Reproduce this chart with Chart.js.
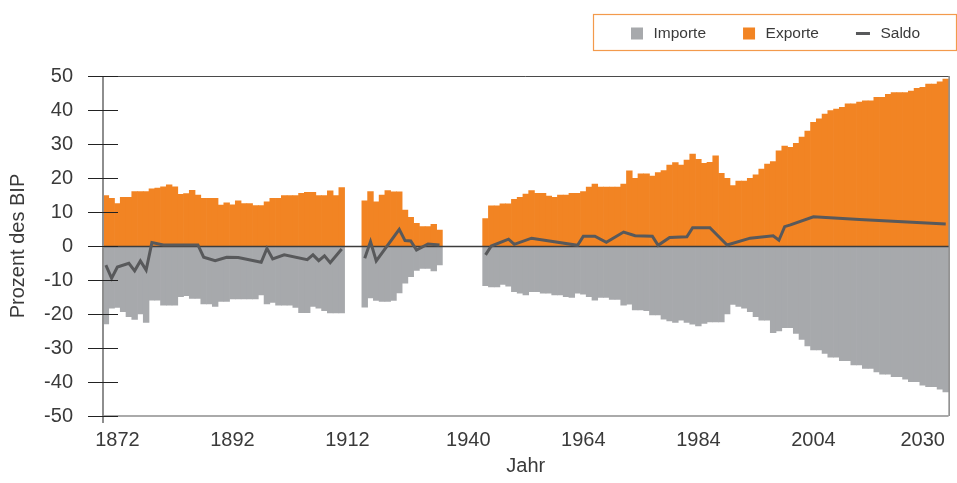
<!DOCTYPE html>
<html lang="de">
<head>
<meta charset="utf-8">
<title>Importe, Exporte und Saldo in Prozent des BIP</title>
<script src="https://cdn.jsdelivr.net/npm/chart.js@4.4.1/dist/chart.umd.min.js"></script>
<style>
  html, body { margin: 0; padding: 0; background: #ffffff; }
  canvas { display: block; }
</style>
</head>
<body>
<canvas id="myChart" width="957" height="483"></canvas>
<script>
// Kategorien (Jahre), so wie sie auf der Achse aufeinander folgen
const jahre = [
  1870, 1871, 1872, 1873, 1874, 1875, 1876, 1877, 1878, 1879,
  1880, 1881, 1882, 1883, 1884, 1885, 1886, 1887, 1888, 1889,
  1890, 1891, 1892, 1893, 1894, 1895, 1896, 1897, 1898, 1899,
  1900, 1901, 1902, 1903, 1904, 1905, 1906, 1907, 1908, 1909,
  1910, 1911, 1912, 1915, 1918, 1921, 1922, 1923, 1924, 1925,
  1926, 1927, 1928, 1929, 1930, 1931, 1932, 1933, 1934, 1935,
  1936, 1937, 1938, 1940, 1942, 1944, 1947, 1948, 1949, 1950,
  1951, 1952, 1953, 1954, 1955, 1956, 1957, 1958, 1959, 1960,
  1961, 1962, 1963, 1964, 1965, 1966, 1967, 1968, 1969, 1970,
  1971, 1972, 1973, 1974, 1975, 1976, 1977, 1978, 1979, 1980,
  1981, 1982, 1983, 1984, 1985, 1986, 1987, 1988, 1989, 1990,
  1991, 1992, 1993, 1994, 1995, 1996, 1997, 1998, 1999, 2000,
  2001, 2002, 2003, 2004, 2005, 2006, 2007, 2008, 2009, 2010,
  2011, 2012, 2013, 2014, 2015, 2016, 2018, 2020, 2022, 2024,
  2026, 2028, 2030, 2032, 2034, 2036, 2038
];

// beschriftete Jahre auf der x-Achse
const tickJahre = [1872, 1892, 1912, 1940, 1964, 1984, 2004, 2030];

const importe = [
  -22.9, -18.3, -18.1, -19.3, -20.8, -21.6, -20.0, -22.5, -15.9, -15.9,
  -17.4, -17.4, -17.4, -14.9, -14.6, -15.4, -15.4, -17.0, -17.0, -17.8,
  -16.3, -16.3, -15.6, -15.6, -15.6, -15.6, -15.6, -14.4, -17.0, -16.6,
  -17.4, -17.4, -17.4, -18.1, -19.6, -19.6, -17.8, -18.3, -19.0, -19.7,
  -19.7, -19.7, null, null, null, -18.0, -15.3, -16.0, -16.3, -16.3,
  -16.0, -13.8, -10.9, -9.0, -7.2, -6.6, -6.6, -7.3, -5.6, null,
  null, null, null, null, null, null, -11.7, -12.0, -12.0, -11.3,
  -11.8, -13.4, -13.9, -14.4, -13.4, -13.4, -13.9, -13.9, -14.4, -14.4,
  -14.9, -15.1, -13.9, -14.2, -14.9, -15.9, -15.1, -15.1, -15.7, -15.7,
  -17.4, -17.1, -18.8, -18.8, -19.0, -20.3, -20.3, -21.5, -22.0, -22.5,
  -21.8, -22.5, -23.0, -23.5, -22.8, -22.3, -22.3, -22.3, -20.0, -17.2,
  -17.8, -18.3, -19.3, -20.8, -21.8, -21.8, -25.5, -25.0, -24.0, -24.0,
  -25.7, -27.5, -29.4, -30.6, -30.6, -31.6, -32.7, -32.7, -33.7, -33.7,
  -35.0, -35.0, -36.0, -36.0, -37.0, -37.7, -37.7, -38.4, -38.4, -39.2,
  -39.9, -39.9, -40.9, -41.4, -41.4, -42.1, -42.9
];

const exporte = [
  14.8, 14.0, 12.5, 14.3, 14.3, 16.0, 16.0, 16.0, 16.8, 17.0,
  17.4, 18.0, 17.4, 15.2, 15.4, 16.4, 15.0, 14.0, 14.0, 14.0,
  12.0, 12.7, 12.1, 13.3, 12.5, 12.5, 11.9, 11.9, 13.0, 14.0,
  14.0, 14.8, 14.8, 14.8, 15.5, 15.8, 15.8, 14.8, 14.8, 16.2,
  14.8, 17.2, null, null, null, 13.3, 16.0, 13.0, 15.0, 16.3,
  15.9, 15.9, 10.6, 8.4, 6.7, 5.7, 5.7, 6.4, 4.7, null,
  null, null, null, null, null, null, 8.1, 11.8, 11.8, 12.4,
  12.4, 13.7, 14.3, 15.3, 16.3, 15.5, 15.5, 14.7, 14.3, 15.0,
  15.0, 15.5, 15.5, 16.0, 17.3, 18.2, 17.3, 17.3, 17.3, 17.3,
  18.2, 22.1, 19.9, 21.2, 21.2, 20.6, 21.6, 22.2, 23.8, 24.5,
  23.8, 25.3, 27.0, 25.5, 24.3, 24.6, 26.5, 21.4, 19.9, 17.8,
  19.1, 19.1, 19.9, 20.9, 22.6, 24.1, 24.8, 28.0, 29.4, 29.0,
  30.2, 32.0, 33.8, 36.4, 37.4, 38.8, 39.8, 40.3, 40.8, 41.8,
  41.8, 42.3, 42.7, 42.7, 43.7, 43.7, 44.6, 45.1, 45.1, 45.1,
  45.6, 46.4, 46.7, 47.6, 47.6, 48.3, 49.1
];

// Saldo: nur die sichtbaren Knickpunkte, dazwischen gerade Linien
const saldo = [
  -5.6, -9.5, -6.2, null, -5.1, -7.3, -4.4, -7.1, 1.0, null,
  0.3, null, null, null, null, null, 0.3, -3.3, null, -4.3,
  null, -3.3, null, -3.4, null, null, null, -4.8, -0.7, -3.8,
  null, -2.6, null, null, null, -4.0, -2.6, -4.3, -2.9, -4.9,
  null, -0.9, null, null, null, -3.6, 1.3, -4.4, null, null,
  null, 4.9, 1.6, 1.5, -1.2, null, 0.6, null, 0.3, null,
  null, null, null, null, null, null, -2.6, 0.0, null, null,
  2.0, 0.5, null, null, 2.3, null, null, null, null, null,
  null, null, 0.2, 2.9, null, 2.9, null, 1.1, null, null,
  4.1, null, 3.0, null, null, 2.9, 0.2, null, 2.5, null,
  null, 2.7, 5.4, null, null, 5.4, null, null, 0.3, null,
  null, null, 2.3, null, null, null, 3.0, 1.7, 5.7, 6.2,
  null, null, null, 8.6, null, null, null, null, null, null,
  null, 7.8, null, null, null, null, null, null, null, null,
  null, null, null, null, null, null, 6.5
];

const grau = '#a7a9ac';
const orange = '#f28423';
const dunkel = '#58595b';
const textFarbe = '#3a3a3a';
const schrift = '"Liberation Sans", Arial, Helvetica, sans-serif';

// Rahmen, Achsen-Ticks, Nulllinie und Legende
const rahmen = {
    id: 'rahmen',
    beforeDatasetDraw: (chart, args) => {
        if (args.meta.type !== 'line') return;
        const { ctx, chartArea: { left, right }, scales: { y } } = chart;
        const y0 = Math.round(y.getPixelForValue(0)) + 0.5;
        ctx.save();
        ctx.strokeStyle = '#3d3d3d';
        ctx.lineWidth = 1.5;
        ctx.beginPath();
        ctx.moveTo(left, y0);
        ctx.lineTo(right, y0);
        ctx.stroke();
        ctx.restore();
    },
    afterDraw: (chart) => {
        const { ctx, chartArea: { top, right, bottom, left }, scales: { y } } = chart;
        ctx.save();

        // oben und rechts
        ctx.strokeStyle = '#4a4a4a';
        ctx.lineWidth = 1;
        ctx.beginPath();
        ctx.moveTo(left, top + 0.5);
        ctx.lineTo(right, top + 0.5);
        ctx.moveTo(right + 0.5, top);
        ctx.lineTo(right + 0.5, bottom);
        ctx.stroke();

        // x-Achse
        ctx.strokeStyle = '#8e8e8e';
        ctx.lineWidth = 1.5;
        ctx.beginPath();
        ctx.moveTo(left, bottom);
        ctx.lineTo(right, bottom);
        ctx.stroke();

        // y-Achse, etwas unter die x-Achse verlängert
        ctx.lineWidth = 2;
        ctx.beginPath();
        ctx.moveTo(left, top);
        ctx.lineTo(left, bottom + 7);
        ctx.stroke();

        // Ticks beidseits der y-Achse
        ctx.strokeStyle = '#222222';
        ctx.lineWidth = 1.2;
        ctx.beginPath();
        y.ticks.forEach(t => {
            const py = Math.round(y.getPixelForValue(t.value)) + 0.5;
            ctx.moveTo(left - 15, py);
            ctx.lineTo(left + 15, py);
        });
        ctx.stroke();

        // Legende
        ctx.strokeStyle = '#f39a4c';
        ctx.lineWidth = 1.2;
        ctx.strokeRect(593.5, 14.5, 363, 36);

        const eintraege = [2, 1, 0].map(i => chart.data.datasets[i]);
        ctx.font = '15.5px ' + schrift;
        ctx.textBaseline = 'middle';
        ctx.textAlign = 'left';
        const ly = 33.5;
        let lx = 631;
        eintraege.forEach(ds => {
            if (ds.type === 'line') {
                ctx.fillStyle = ds.borderColor;
                ctx.fillRect(lx, ly - 1.5, 14, 3);
                lx += 14;
            } else {
                ctx.fillStyle = ds.backgroundColor;
                ctx.fillRect(lx, ly - 6, 12, 12);
                lx += 12;
            }
            lx += 10.5;
            ctx.fillStyle = textFarbe;
            ctx.fillText(ds.label, lx, ly);
            lx += ctx.measureText(ds.label).width + 37;
        });

        ctx.restore();
    }
};

const ctx = document.getElementById('myChart');

new Chart(ctx, {
    type: 'bar',
    data: {
        labels: jahre,
        datasets: [
            {
                type: 'line',
                label: 'Saldo',
                data: saldo,
                borderColor: dunkel,
                borderWidth: 3,
                pointRadius: 0,
                tension: 0,
                spanGaps: true,
                order: 0,
                segment: {
                    // keine Linie über die Datenlücken (Kriegsjahre) hinweg
                    borderColor: c => exporte[c.p1DataIndex - 1] == null ? 'rgba(0,0,0,0)' : undefined
                }
            },
            {
                label: 'Exporte',
                data: exporte,
                backgroundColor: orange,
                borderWidth: 0,
                barPercentage: 1,
                categoryPercentage: 1,
                order: 1
            },
            {
                label: 'Importe',
                data: importe,
                backgroundColor: grau,
                borderWidth: 0,
                barPercentage: 1,
                categoryPercentage: 1,
                order: 2
            }
        ]
    },
    options: {
        responsive: false,
        animation: false,
        devicePixelRatio: 1,
        layout: {
            padding: { top: 76, right: 1, left: 0, bottom: 0 }
        },
        plugins: {
            legend: { display: false },
            tooltip: { enabled: false }
        },
        scales: {
            x: {
                stacked: true,
                grid: { display: false, drawTicks: false },
                border: { display: false },
                ticks: {
                    autoSkip: false,
                    maxRotation: 0,
                    padding: 12,
                    color: textFarbe,
                    font: { family: schrift, size: 20 },
                    callback: function (value, index) {
                        const j = jahre[index];
                        return tickJahre.includes(j) ? String(j) : null;
                    }
                },
                title: {
                    display: true,
                    text: 'Jahr',
                    color: textFarbe,
                    font: { family: schrift, size: 20 },
                    padding: { top: 0, bottom: 5 }
                },
                afterFit: (scale) => { scale.height = 67; }
            },
            y: {
                min: -50,
                max: 50,
                grid: { display: false, drawTicks: false },
                border: { display: false },
                ticks: {
                    stepSize: 10,
                    padding: 30,
                    color: textFarbe,
                    font: { family: schrift, size: 20 }
                },
                title: {
                    display: true,
                    text: 'Prozent des BIP',
                    color: textFarbe,
                    font: { family: schrift, size: 20 },
                    padding: { top: 6, bottom: 0 }
                },
                afterFit: (scale) => { scale.width = 103; }
            }
        }
    },
    plugins: [rahmen]
});
</script>
</body>
</html>
